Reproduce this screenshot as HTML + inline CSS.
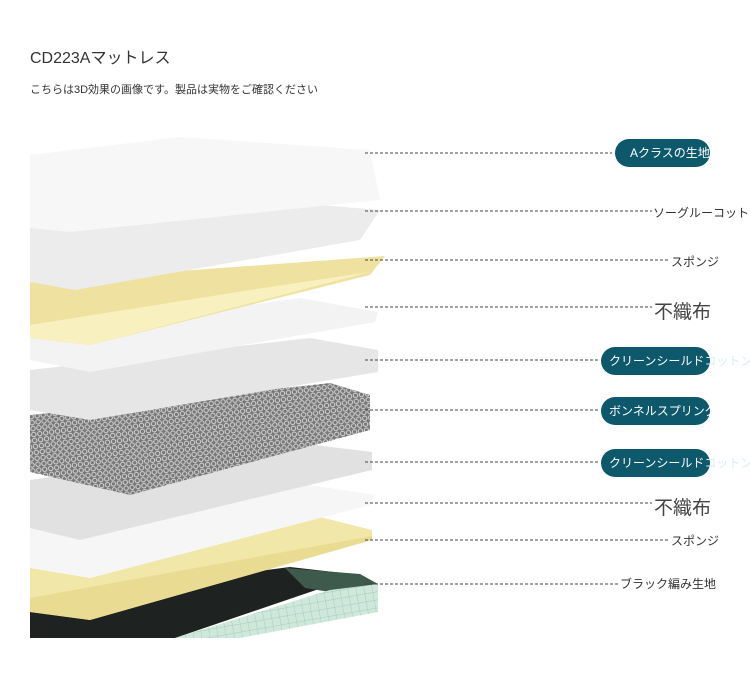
<!DOCTYPE html>
<html><head><meta charset="utf-8"><style>
body{margin:0;width:750px;height:679px;background:#fff;position:relative;overflow:hidden;font-family:"Liberation Sans","Noto Sans CJK JP",sans-serif;color:#333}
.t{position:absolute;white-space:nowrap}
.pill{position:absolute;height:28px;border-radius:14px;background:#0d586b;color:#fff;font-size:12px;line-height:28px;white-space:nowrap;overflow:visible;box-sizing:border-box;padding-left:8px}
.pill span{color:#d4eef2}
</style></head><body>
<div class="t" style="left:30px;top:44px;font-size:16px;color:#333">CD223Aマットレス</div>
<div class="t" style="left:30px;top:81px;font-size:11px;color:#333">こちらは3D効果の画像です。製品は実物をご確認ください</div>
<svg width="750" height="679" style="position:absolute;left:0;top:0">
<defs>
<pattern id="mesh" width="6" height="6" patternUnits="userSpaceOnUse" patternTransform="rotate(-8)">
<rect width="6" height="6" fill="#777"/><circle cx="3" cy="3" r="2.2" fill="none" stroke="#d8d8d8" stroke-width="1"/></pattern>
<pattern id="grid" width="8" height="8" patternUnits="userSpaceOnUse" patternTransform="rotate(-10)">
<rect width="8" height="8" fill="#cfe8dc"/><path d="M0 0H8M0 0V8" stroke="#a9cbb9" stroke-width="1"/></pattern>
</defs>
<polygon points="30,600 290,567 360,575 175,638 30,638" fill="#1e2221"/>
<polygon points="285,568 360,574 378,584 330,592 305,588" fill="#3d5a4c"/>
<polygon points="175,638 330,590 378,584 378,612 240,638" fill="url(#grid)"/>
<polygon points="30,560 320,517 372,530 372,540 90,620 30,612" fill="#f1e7a8"/>
<polygon points="30,598 372,536 372,540 90,620 30,612" fill="#e9dc92"/>
<polygon points="30,520 310,485 375,495 370,505 90,578 30,568" fill="#f6f6f6"/>
<polygon points="30,480 290,442 372,452 372,470 80,540 30,528" fill="#e1e1e1"/>
<polygon points="30,415 330,383 370,395 370,430 130,495 30,472" fill="url(#mesh)"/>
<polygon points="30,370 310,338 378,350 378,372 90,420 30,410" fill="#e6e6e6"/>
<polygon points="30,335 300,298 378,312 375,322 90,372 30,360" fill="#f3f3f3"/>
<polygon points="30,282 385,256 370,275 90,345 30,338" fill="#efe2a0"/>
<polygon points="30,325 250,290 370,272 90,345 30,338" fill="#f8f0bf"/>
<polygon points="30,225 320,205 380,210 360,240 75,290 30,282" fill="#ececec"/>
<polygon points="30,155 180,137 370,150 380,200 70,232 30,228" fill="#f7f7f7"/>
<g stroke="#444" stroke-width="1" stroke-dasharray="3,2">
<line x1="365" y1="153" x2="612" y2="153"/>
<line x1="365" y1="211" x2="652" y2="211"/>
<line x1="365" y1="260" x2="668" y2="260"/>
<line x1="365" y1="307" x2="652" y2="307"/>
<line x1="365" y1="360" x2="598" y2="360"/>
<line x1="365" y1="410" x2="598" y2="410"/>
<line x1="365" y1="462" x2="598" y2="462"/>
<line x1="365" y1="503" x2="652" y2="503"/>
<line x1="365" y1="540" x2="668" y2="540"/>
<line x1="365" y1="584" x2="618" y2="584"/>
</g>
</svg>
<div class="pill" style="left:615px;top:139px;width:95px;padding-left:15px">Aクラスの生地</div>
<div class="pill" style="left:601px;top:347px;width:109px">クリーンシールド<span>コットン</span></div>
<div class="pill" style="left:601px;top:397px;width:109px">ボンネルスプリング</div>
<div class="pill" style="left:601px;top:449px;width:109px">クリーンシールド<span>コットン</span></div>
<div class="t" style="left:653px;top:204px;font-size:12px">ソーグルーコット</div>
<div class="t" style="left:671px;top:253px;font-size:12px">スポンジ</div>
<div class="t" style="left:654px;top:297px;font-size:19px;color:#444">不織布</div>
<div class="t" style="left:654px;top:493px;font-size:19px;color:#444">不織布</div>
<div class="t" style="left:671px;top:532px;font-size:12px">スポンジ</div>
<div class="t" style="left:620px;top:575px;font-size:12px">ブラック編み生地</div>
</body></html>
